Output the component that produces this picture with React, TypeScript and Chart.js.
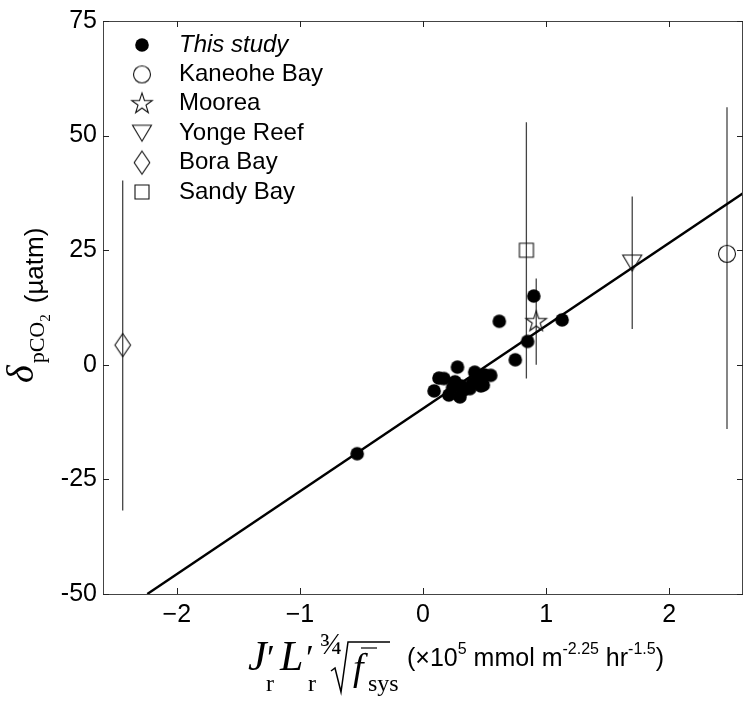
import React, { useEffect, useRef } from 'react';
import { Chart, registerables } from 'chart.js';

Chart.register(...registerables);

// ---------- data ----------
const studyX = [-0.535, 0.09, 0.13, 0.17, 0.21, 0.24, 0.26, 0.28, 0.30, 0.31, 0.33, 0.38, 0.40, 0.42, 0.45, 0.47, 0.49, 0.50, 0.55, 0.62, 0.75, 0.85, 0.90, 1.13];
const studyY = [-19.4, -5.7, -2.9, -3.0, -6.6, -5.0, -3.7, -0.5, -7.0, -4.6, -5.5, -5.2, -4.0, -1.6, -2.6, -4.6, -4.4, -2.2, -2.3, 9.5, 1.1, 5.1, 15.0, 9.8];

const siteNames = ['Kaneohe Bay', 'Moorea', 'Yonge Reef', 'Bora Bay', 'Sandy Bay'];
const siteX = [2.47, 0.92, 1.70, -2.44, 0.84];
const siteY = [24.2, 9.4, 22.2, 4.3, 25.0];
const siteLow = [-14.0, 0.0, 7.8, -31.8, -3.0];
const siteHigh = [56.2, 18.8, 36.7, 40.2, 52.9];
const siteMarkers = ['circle', 'star', 'tri', 'diamond', 'square'];

const fitX = [-2.24, 2.6];
const fitY = [-50.0, 37.4];

const xTicks = [-2, -1, 0, 1, 2];
const yTicks = [-50, -25, 0, 25, 50, 75];

const SANS = '"Liberation Sans", Arial, sans-serif';
const SERIF = '"Liberation Serif", "Times New Roman", serif';

function makeMarker(kind: string): HTMLCanvasElement {
  const c = document.createElement('canvas');
  const S = 30;
  c.width = S;
  c.height = S;
  const g = c.getContext('2d') as CanvasRenderingContext2D;
  const cx = S / 2, cy = S / 2;
  g.lineWidth = 1.1;
  g.strokeStyle = '#111';
  g.fillStyle = '#000';
  g.beginPath();
  if (kind === 'dot') {
    g.arc(cx, cy, 6.8, 0, Math.PI * 2);
    g.fill();
    return c;
  }
  if (kind === 'circle') {
    g.arc(cx, cy, 8.5, 0, Math.PI * 2);
  } else if (kind === 'star') {
    const R = 10.8, r = 4.2;
    for (let i = 0; i < 10; i++) {
      const rad = i % 2 === 0 ? R : r;
      const a = -Math.PI / 2 + (i * Math.PI) / 5;
      const px = cx + rad * Math.cos(a), py = cy + rad * Math.sin(a);
      if (i === 0) g.moveTo(px, py); else g.lineTo(px, py);
    }
    g.closePath();
  } else if (kind === 'tri') {
    g.moveTo(cx - 9.5, cy - 8);
    g.lineTo(cx + 9.5, cy - 8);
    g.lineTo(cx, cy + 8);
    g.closePath();
  } else if (kind === 'diamond') {
    g.moveTo(cx, cy - 11.5);
    g.lineTo(cx + 7.8, cy);
    g.lineTo(cx, cy + 11.5);
    g.lineTo(cx - 7.8, cy);
    g.closePath();
  } else if (kind === 'square') {
    g.rect(cx - 7, cy - 7, 14, 14);
  }
  g.stroke();
  return c;
}

export default function App() {
  const ref = useRef<HTMLCanvasElement | null>(null);

  useEffect(() => {
    const canvas = ref.current;
    if (!canvas) return;
    const imgs: Record<string, HTMLCanvasElement> = {};
    ['dot', 'circle', 'star', 'tri', 'diamond', 'square'].forEach((k) => (imgs[k] = makeMarker(k)));

    const siteSets = siteNames.map((name, i) => ({
      type: 'scatter' as const,
      label: name,
      data: [{ x: siteX[i], y: siteY[i] }],
      pointStyle: imgs[siteMarkers[i]],
      pointRadius: 6,
      order: 1,
    }));

    const errorBars = {
      id: 'errorBars',
      beforeDatasetsDraw(chart: any) {
        const { ctx, scales } = chart;
        ctx.save();
        ctx.strokeStyle = '#444';
        ctx.lineWidth = 1.3;
        siteX.forEach((x, i) => {
          const px = scales.x.getPixelForValue(x);
          ctx.beginPath();
          ctx.moveTo(px, scales.y.getPixelForValue(siteHigh[i]));
          ctx.lineTo(px, scales.y.getPixelForValue(siteLow[i]));
          ctx.stroke();
        });
        ctx.restore();
      },
    };

    const decor = {
      id: 'decor',
      afterDraw(chart: any) {
        const { ctx, chartArea: a, scales } = chart;
        ctx.save();
        // frame
        ctx.strokeStyle = '#444';
        ctx.lineWidth = 1;
        ctx.strokeRect(Math.round(a.left) + 0.5, Math.round(a.top) + 0.5, Math.round(a.right - a.left) - 1, Math.round(a.bottom - a.top));
        // inward ticks
        const T = 6;
        ctx.strokeStyle = '#222';
        ctx.beginPath();
        xTicks.forEach((v) => {
          const px = Math.round(scales.x.getPixelForValue(v)) + 0.5;
          ctx.moveTo(px, a.bottom);
          ctx.lineTo(px, a.bottom - T);
          ctx.moveTo(px, a.top);
          ctx.lineTo(px, a.top + T);
        });
        yTicks.forEach((v) => {
          const py = Math.round(scales.y.getPixelForValue(v)) + 0.5;
          ctx.moveTo(a.left, py);
          ctx.lineTo(a.left + T, py);
          ctx.moveTo(a.right, py);
          ctx.lineTo(a.right - T, py);
        });
        ctx.stroke();

        // legend
        const rows = ['This study', ...siteNames];
        const mk = ['dot', ...siteMarkers];
        ctx.textBaseline = 'middle';
        ctx.textAlign = 'left';
        ctx.fillStyle = '#000';
        rows.forEach((t, i) => {
          const y = 45 + 29.4 * i;
          const im = imgs[mk[i]];
          ctx.drawImage(im, 142 - im.width / 2, y - im.height / 2);
          ctx.font = (i === 0 ? 'italic ' : '') + `24px ${SANS}`;
          ctx.fillText(t, 179, y);
        });

        // y title (rotated)
        ctx.save();
        ctx.translate(0, 383);
        ctx.rotate(-Math.PI / 2);
        ctx.textBaseline = 'alphabetic';
        let lx = 0;
        ctx.font = `italic 38px ${SERIF}`;
        ctx.fillText('δ', lx, 33);
        lx += ctx.measureText('δ').width + 2;
        ctx.font = `22px ${SERIF}`;
        ctx.fillText('pCO', lx, 44);
        lx += ctx.measureText('pCO').width;
        ctx.font = `15px ${SERIF}`;
        ctx.fillText('2', lx, 50);
        lx += ctx.measureText('2').width + 11;
        ctx.font = `26px ${SANS}`;
        ctx.fillText('(µatm)', lx, 43);
        ctx.restore();

        // x title
        ctx.textBaseline = 'alphabetic';
        ctx.strokeStyle = '#000';
        const it = (s: number) => `italic ${s}px ${SERIF}`;
        ctx.font = it(42);
        ctx.fillText('J', 248, 670);
        ctx.font = `36px ${SERIF}`;
        ctx.fillText('′', 267, 670);
        ctx.font = `24px ${SERIF}`;
        ctx.fillText('r', 266, 691);
        ctx.font = it(42);
        ctx.fillText('L', 280, 670);
        ctx.font = `36px ${SERIF}`;
        ctx.fillText('′', 306, 670);
        ctx.font = `24px ${SERIF}`;
        ctx.fillText('r', 308, 691);
        ctx.font = `30px ${SERIF}`;
        ctx.fillText('¾', 320, 654);
        ctx.lineWidth = 1.5;
        ctx.beginPath();
        ctx.moveTo(331, 671);
        ctx.lineTo(335, 668);
        ctx.lineTo(341, 692);
        ctx.lineTo(348, 642);
        ctx.lineTo(390, 642);
        ctx.stroke();
        ctx.font = it(38);
        ctx.fillText('f', 353, 680);
        ctx.lineWidth = 1.2;
        ctx.beginPath();
        ctx.moveTo(361, 648);
        ctx.lineTo(377, 648);
        ctx.stroke();
        ctx.font = `24px ${SERIF}`;
        ctx.fillText('sys', 368, 691);
        let x = 407;
        const b = 666;
        const runs: [string, number, number][] = [
          ['(×10', 25, 0],
          ['5', 16, -12],
          [' mmol m', 25, 0],
          ['-2.25', 16, -12],
          [' hr', 25, 0],
          ['-1.5', 16, -12],
          [')', 25, 0],
        ];
        runs.forEach(([t, s, dy]) => {
          ctx.font = `${s}px ${SANS}`;
          ctx.fillText(t, x, b + dy);
          x += ctx.measureText(t).width;
        });
        ctx.restore();
      },
    };

    const chart = new Chart(canvas, {
      type: 'scatter',
      data: {
        datasets: [
          {
            type: 'line' as const,
            label: 'fit',
            data: fitX.map((x, i) => ({ x, y: fitY[i] })),
            borderColor: '#000',
            borderWidth: 2.4,
            pointRadius: 0,
            fill: false,
            order: 10,
          } as any,
          {
            type: 'scatter' as const,
            label: 'This study',
            data: studyX.map((x, i) => ({ x, y: studyY[i] })),
            pointStyle: imgs.dot,
            pointRadius: 6,
            order: 0,
          },
          ...siteSets,
        ],
      },
      options: {
        responsive: false,
        animation: false,
        events: [],
        layout: { padding: { left: 0, top: 16, right: 8, bottom: 0 } },
        plugins: { legend: { display: false }, tooltip: { enabled: false } },
        scales: {
          x: {
            type: 'linear',
            min: -2.6,
            max: 2.6,
            grid: { display: false, drawTicks: false },
            border: { display: false },
            ticks: {
              stepSize: 1,
              includeBounds: false,
              autoSkip: false,
              maxRotation: 0,
              padding: 6,
              color: '#000',
              font: { family: SANS, size: 25 },
              callback: (v: any) => (Number(v) < 0 ? '\u2212' + Math.abs(Number(v)) : String(v)),
            },
            afterFit: (s: any) => {
              s.height = 110;
            },
          },
          y: {
            type: 'linear',
            min: -50,
            max: 75,
            grid: { display: false, drawTicks: false },
            border: { display: false },
            ticks: {
              stepSize: 25,
              autoSkip: false,
              padding: 6,
              color: '#000',
              font: { family: SANS, size: 25 },
              callback: (v: any) => String(v),
            },
            afterFit: (s: any) => {
              s.width = 103;
            },
          },
        },
      } as any,
      plugins: [errorBars, decor],
    });
    return () => chart.destroy();
  }, []);

  return (
    <div style={{ position: 'fixed', left: 0, top: 0, width: 751, height: 704, background: '#fff' }}>
      <canvas ref={ref} width={751} height={704} style={{ display: 'block' }} />
    </div>
  );
}
